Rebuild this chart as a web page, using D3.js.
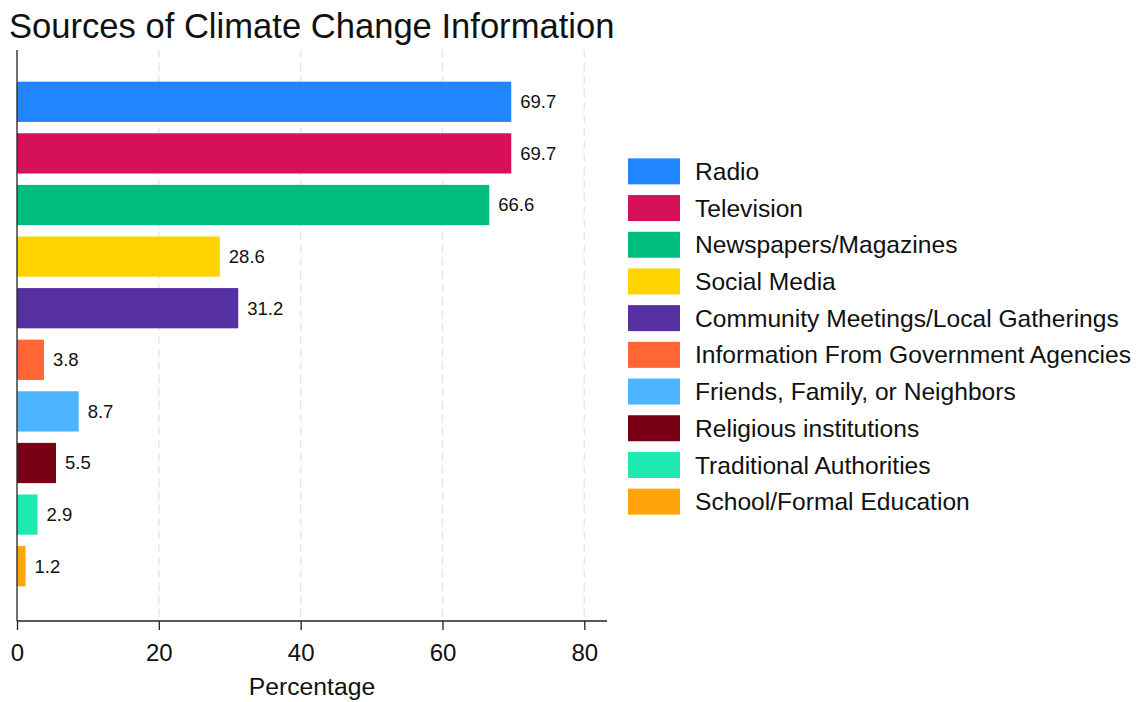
<!DOCTYPE html>
<html><head><meta charset="utf-8">
<script src="https://cdn.jsdelivr.net/npm/d3@7"></script>
<style>body{margin:0;background:#fff;} svg{display:block;font-family:"Liberation Sans",Arial,sans-serif;}</style>
</head><body>
<svg id="c" width="1138" height="702"></svg>
<script>
const categories = ["Radio","Television","Newspapers/Magazines","Social Media","Community Meetings/Local Gatherings","Information From Government Agencies","Friends, Family, or Neighbors","Religious institutions","Traditional Authorities","School/Formal Education"];
const values = [69.7,69.7,66.6,28.6,31.2,3.8,8.7,5.5,2.9,1.2];
const colors = ["#1f86ff","#d6115a","#00bd7f","#ffd300","#5630a0","#ff6636","#4db4ff","#7a0016","#1de9b0","#ffa40a"];
const xTicks = [0,20,40,60,80];

(function(){
const svg = d3.select("#c");
const pL = 17, pR = 607, pT = 50, pB = 621;
const x = d3.scaleLinear().domain([0, 83.2]).range([pL, pR]);
const y = d3.scaleBand().domain(categories).range([76, 592]).paddingInner(0.22).paddingOuter(0.11);

svg.append("text").attr("x", 9).attr("y", 38).attr("font-size", 34.6).attr("fill", "#111").text("Sources of Climate Change Information");

// grid
svg.append("g").selectAll("line").data(xTicks.filter(d => d > 0)).join("line")
  .attr("x1", d => x(d)).attr("x2", d => x(d)).attr("y1", pT).attr("y2", pB)
  .attr("stroke", "#e6e6e6").attr("stroke-width", 1.5).attr("stroke-dasharray", "8,5");

// bars
svg.append("g").selectAll("rect").data(categories).join("rect")
  .attr("x", x(0)).attr("y", d => y(d)).attr("height", y.bandwidth())
  .attr("width", (d, i) => x(values[i]) - x(0)).attr("fill", (d, i) => colors[i]);

svg.append("g").selectAll("text").data(categories).join("text")
  .attr("x", (d, i) => x(values[i]) + 9).attr("y", d => y(d) + y.bandwidth() / 2)
  .attr("dy", "0.35em").attr("font-size", 18.5).attr("fill", "#111")
  .text((d, i) => values[i].toFixed(1));

// axes
const xAxis = d3.axisBottom(x).tickValues(xTicks).tickSize(9).tickPadding(14);
const gx = svg.append("g").attr("transform", `translate(0,${pB})`).call(xAxis);
gx.select(".domain").attr("stroke", "#222").attr("stroke-width", 1.3).attr("d", `M${pL},0H${pR}`);
gx.selectAll(".tick line").attr("stroke", "#222").attr("stroke-width", 1.3);
gx.selectAll(".tick text").attr("font-size", 24).attr("fill", "#111").attr("font-family", "Liberation Sans, Arial, sans-serif");

svg.append("line").attr("x1", pL).attr("x2", pL).attr("y1", pT).attr("y2", pB).attr("stroke", "#222").attr("stroke-width", 1.3);

svg.append("text").attr("x", (pL + pR) / 2).attr("y", 695).attr("text-anchor", "middle")
  .attr("font-size", 24.7).attr("fill", "#111").text("Percentage");

// legend
const lg = svg.append("g");
const ls = d3.scaleBand().domain(categories).range([153, 520]);
lg.selectAll("rect").data(categories).join("rect")
  .attr("x", 628).attr("y", d => ls(d) + ls.bandwidth() / 2 - 13).attr("width", 52).attr("height", 26)
  .attr("fill", (d, i) => colors[i]);
lg.selectAll("text").data(categories).join("text")
  .attr("x", 695).attr("y", d => ls(d) + ls.bandwidth() / 2).attr("dy", "0.35em")
  .attr("font-size", 24.6).attr("fill", "#111").text(d => d);
})();
</script>
</body></html>
